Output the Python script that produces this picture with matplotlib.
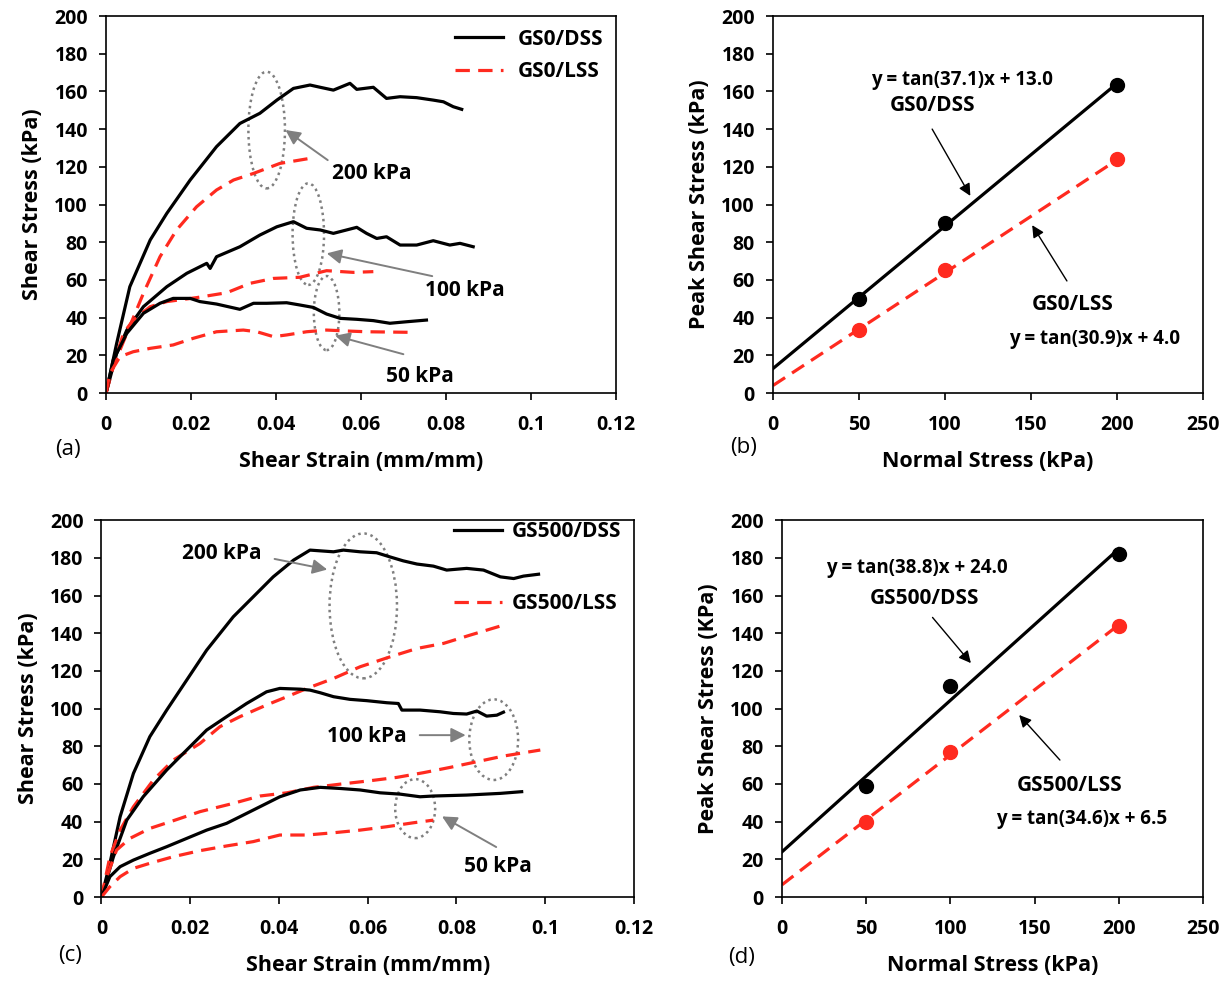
import matplotlib.pyplot as plt
from matplotlib.patches import Ellipse
import numpy as np

plt.rcParams['font.family'] = ['Open Sans', 'DejaVu Sans']
plt.rcParams['font.weight'] = 'bold'

# ---- panel (a): GS0 shear stress vs shear strain ----
a_dss200_x = [0, 0.0025, 0.0056, 0.0104, 0.0143, 0.0198, 0.026, 0.0315, 0.0362, 0.0402, 0.0441, 0.048,
              0.0504, 0.0535, 0.0574, 0.059, 0.0629, 0.066, 0.0692, 0.0731, 0.077, 0.0794, 0.0817, 0.0837]
a_dss200_y = [0, 26.3, 56.4, 81.2, 95.3, 113, 130.7, 143, 148.4, 155.4, 161.6, 163.4,
              162.2, 160.7, 164.3, 161.1, 162.2, 156.3, 157.2, 156.7, 155.4, 154.5, 151.9, 150.5]
a_lss200_x = [0, 0.0017, 0.0049, 0.0088, 0.0127, 0.0166, 0.0213, 0.026, 0.03, 0.0347, 0.0409, 0.048]
a_lss200_y = [0, 14, 31.7, 52.9, 72.3, 86.5, 98.8, 107.7, 113, 116.5, 121.8, 124.5]
a_dss100_x = [0, 0.0025, 0.0049, 0.0088, 0.0143, 0.019, 0.0237, 0.0245, 0.026, 0.0315, 0.0362, 0.0402, 0.0441,
              0.0472, 0.0504, 0.0535, 0.059, 0.0613, 0.0637, 0.066, 0.0692, 0.0731, 0.077, 0.0809, 0.0833, 0.0864]
a_dss100_y = [0, 21, 33.4, 45.8, 56.4, 63.5, 68.8, 66.1, 72.3, 77.6, 83.8, 88.2, 90.9,
              87.4, 86.5, 84.7, 87.9, 84.7, 82, 82.9, 78.5, 78.5, 80.8, 78.5, 79.4, 77.6]
a_lss100_x = [0, 0.0017, 0.0041, 0.0064, 0.0104, 0.0143, 0.0213, 0.0284, 0.0339, 0.0394, 0.0456, 0.0519, 0.0582, 0.0629]
a_lss100_y = [0, 14, 31.7, 38.7, 45.8, 48.5, 50.6, 53.2, 58.2, 60.8, 61.4, 64.9, 64, 64.4]
a_dss50_x = [0, 0.0017, 0.0049, 0.0088, 0.0127, 0.0158, 0.0198, 0.0221, 0.026, 0.0315, 0.0347, 0.0378, 0.0425,
             0.0456, 0.0488, 0.0519, 0.0551, 0.059, 0.0629, 0.0668, 0.0707, 0.0754]
a_dss50_y = [0, 17.5, 31.7, 42.3, 47.6, 50.2, 50.2, 48.5, 47.2, 44.4, 47.6, 47.6, 47.9,
             46.7, 45.4, 41.9, 39.6, 39.1, 38.4, 37, 37.8, 38.7]
a_lss50_x = [0, 0.0009, 0.0033, 0.0064, 0.0104, 0.0158, 0.0205, 0.026, 0.0323, 0.0355, 0.0394, 0.0425,
             0.0472, 0.0519, 0.0566, 0.0613, 0.0715]
a_lss50_y = [0, 10.4, 19.3, 21.9, 23.7, 25.5, 29, 32.5, 33.4, 32.5, 29.9, 30.8, 32.5, 33.4, 32.9, 32.5, 32.2]

# ---- panel (c): GS500 shear stress vs shear strain ----
c_dss200_x = [0, 0.0019, 0.0042, 0.0072, 0.0109, 0.0147, 0.0192, 0.0237, 0.0297, 0.0342, 0.0387, 0.0433, 0.047,
              0.0523, 0.0545, 0.0583, 0.062, 0.065, 0.068, 0.0711, 0.0748, 0.0778, 0.0823, 0.0861, 0.0899,
              0.0929, 0.0951, 0.0985]
c_dss200_y = [0, 17.9, 42.6, 65.6, 85.1, 99.2, 115.1, 131, 148.7, 159.3, 169.9, 178.8, 184.1,
              183.2, 184.1, 183.2, 182.7, 180.5, 178.4, 176.7, 175.6, 173.5, 174.4, 173.5, 169.9,
              169, 170.3, 171.3]
c_lss200_x = [0, 0.0019, 0.0042, 0.0072, 0.0117, 0.0162, 0.0222, 0.0267, 0.0312, 0.0372, 0.0418, 0.0463,
              0.0523, 0.0583, 0.0651, 0.0711, 0.0771, 0.0831, 0.0906]
c_lss200_y = [0, 21.4, 35.5, 47.9, 62.1, 72.7, 81.5, 90.4, 95.7, 101.9, 106.3, 110.7,
              116, 122.2, 127.5, 131.9, 134.6, 139, 144.3]
c_dss100_x = [0, 0.0027, 0.0057, 0.0094, 0.0147, 0.0192, 0.0237, 0.0282, 0.0327, 0.0372, 0.0402, 0.0448,
              0.047, 0.0493, 0.0523, 0.056, 0.0598, 0.0643, 0.0669, 0.0677, 0.0718, 0.0763, 0.0793, 0.0823,
              0.0846, 0.0868, 0.0891, 0.0906]
c_dss100_y = [0, 21.4, 40.8, 53.2, 67.4, 78, 88.6, 95.7, 102.7, 108.9, 110.7, 110.3,
              109.8, 108.4, 106.3, 104.9, 104.2, 103.1, 102.7, 99.2, 99.2, 98.3, 97.4, 97.1,
              98.7, 96, 96.5, 98.1]
c_lss100_x = [0, 0.0012, 0.0034, 0.0064, 0.0109, 0.0162, 0.0222, 0.0297, 0.0357, 0.0418, 0.0478, 0.0538,
              0.0605, 0.0666, 0.0726, 0.0786, 0.0846, 0.0906, 0.0989]
c_lss100_y = [0, 10.8, 24.9, 31.1, 36.4, 40.5, 45.3, 49.7, 53.6, 55.3, 58.2, 59.9,
              61.7, 63.5, 66, 68.8, 71.8, 74.8, 78]
c_dss50_x = [0, 0.0019, 0.0042, 0.0072, 0.0109, 0.0147, 0.0192, 0.0237, 0.0282, 0.0312, 0.0357, 0.0402,
             0.0448, 0.0493, 0.0538, 0.0583, 0.0628, 0.0673, 0.0718, 0.0748, 0.0823, 0.0899, 0.0947]
c_dss50_y = [0, 10.8, 16.1, 19.6, 23.2, 26.7, 31.1, 35.5, 39.1, 42.6, 47.9, 53.2,
             56.8, 58.2, 57.6, 56.8, 55.3, 54.6, 53.2, 53.6, 54.1, 55, 55.9]
c_lss50_x = [0, 0.0019, 0.0042, 0.0072, 0.0109, 0.0162, 0.0222, 0.0282, 0.0342, 0.0402, 0.0463, 0.0523,
             0.0583, 0.0643, 0.0703, 0.0748]
c_lss50_y = [0, 5.5, 10.8, 15.2, 17.9, 21.4, 24.6, 27.1, 29.4, 32.9, 32.9, 34.1, 35.5, 37.3, 39.4, 40.8]

# ---- panels (b), (d): peak shear stress vs normal stress ----
normal_stress = [50, 100, 200]
b_dss_peak = [50, 90, 163.5]
b_lss_peak = [33.5, 65, 124]
d_dss_peak = [59, 112, 182]
d_lss_peak = [40, 77, 144]
b_dss_fit = (37.1, 13.0)
b_lss_fit = (30.9, 4.0)
d_dss_fit = (38.8, 24.0)
d_lss_fit = (34.6, 6.5)

strain_ticks = [0, 0.02, 0.04, 0.06, 0.08, 0.1, 0.12]
strain_labels = ["0", "0.02", "0.04", "0.06", "0.08", "0.1", "0.12"]

RED = '#ff2a1f'
GRAY = '#7f7f7f'
LW = 2.3
DASH = (4.5, 2.6)
LBL = dict(fontsize=15.5, fontweight='bold')
ANN = dict(fontsize=15, fontweight='bold')

fig = plt.figure(figsize=(12.3, 9.84), dpi=100)
ax_a = fig.add_axes([0.0862, 0.6006, 0.4146, 0.3831])
ax_b = fig.add_axes([0.6285, 0.6006, 0.3496, 0.3831])
ax_c = fig.add_axes([0.0825, 0.0884, 0.4329, 0.3830])
ax_d = fig.add_axes([0.6358, 0.0884, 0.3423, 0.3830])


def style(ax):
    for s in ax.spines.values():
        s.set_linewidth(1.2)
    ax.tick_params(direction='out', length=5, width=1.2, labelsize=14)
    ax.tick_params(axis='x', pad=11)
    ax.tick_params(axis='y', pad=8)
    ax.set_ylim(0, 200)


def note(ax, txt, tail, head, ell):
    ax.add_patch(Ellipse(ell[0], ell[1], ell[2], fill=False, ec=GRAY, ls=(0, (1, 1.5)), lw=1.8))
    ax.annotate('', xy=head, xytext=tail,
                arrowprops=dict(arrowstyle='-|>', color=GRAY, lw=1.4, mutation_scale=22))
    ax.text(txt[0], txt[1], txt[2], ha='left', va='center', **ANN)


def strain_axis(ax):
    ax.set_xlim(0, 0.12)
    ax.set_xticks(strain_ticks)
    ax.set_xticklabels(strain_labels)
    ax.set_yticks(range(0, 201, 20))
    style(ax)
    ax.set_xlabel('Shear Strain (mm/mm)', labelpad=11, **LBL)
    ax.set_ylabel('Shear Stress (kPa)', labelpad=8, **LBL)


# (a)
ax = ax_a
ax.plot(a_dss200_x, a_dss200_y, color='black', lw=LW, label='GS0/DSS')
ax.plot(a_lss200_x, a_lss200_y, color=RED, lw=LW, dashes=DASH, label='GS0/LSS')
ax.plot(a_dss100_x, a_dss100_y, color='black', lw=LW)
ax.plot(a_lss100_x, a_lss100_y, color=RED, lw=LW, dashes=DASH)
ax.plot(a_dss50_x, a_dss50_y, color='black', lw=LW)
ax.plot(a_lss50_x, a_lss50_y, color=RED, lw=LW, dashes=DASH)
strain_axis(ax)
note(ax, (0.0531, 116.5, '200 kPa'), (0.0527, 122.7), (0.0417, 140.4), ((0.0378, 139.5), 0.0086, 61.9))
note(ax, (0.0751, 54.6, '100 kPa'), (0.0774, 61.7), (0.0513, 74.4), ((0.0476, 84.3), 0.0074, 53.9))
note(ax, (0.0659, 8.7, '50 kPa'), (0.0706, 20.2), (0.0533, 30.8), ((0.0519, 42.4), 0.006, 39.3))
ax.legend(loc='upper right', bbox_to_anchor=(1.0, 1.0), frameon=False, handlelength=2.3,
          handletextpad=0.7, labelspacing=0.55, borderaxespad=0.2, prop=dict(size=15, weight='bold'))

# (c)
ax = ax_c
ax.plot(c_dss200_x, c_dss200_y, color='black', lw=LW, label='GS500/DSS')
ax.plot(c_lss200_x, c_lss200_y, color=RED, lw=LW, dashes=DASH, label='GS500/LSS')
ax.plot(c_dss100_x, c_dss100_y, color='black', lw=LW)
ax.plot(c_lss100_x, c_lss100_y, color=RED, lw=LW, dashes=DASH)
ax.plot(c_dss50_x, c_dss50_y, color='black', lw=LW)
ax.plot(c_lss50_x, c_lss50_y, color=RED, lw=LW, dashes=DASH)
strain_axis(ax)
note(ax, (0.0181, 182.3, '200 kPa'), (0.0384, 179.7), (0.0515, 173.5), ((0.059, 154.5), 0.0152, 76.9))
note(ax, (0.0508, 85.4, '100 kPa'), (0.0711, 85.9), (0.0827, 85.9), ((0.0884, 83.5), 0.011, 42.8))
note(ax, (0.0816, 16.4, '50 kPa'), (0.0895, 25.8), (0.0762, 43.5), ((0.0707, 46.9), 0.009, 31.3))
ax.legend(loc='upper right', bbox_to_anchor=(1.0, 1.03), frameon=False, handlelength=2.3,
          handletextpad=0.5, labelspacing=2.45, borderaxespad=0.2, prop=dict(size=15, weight='bold'))


def peak_panel(ax, dss, lss, dss_fit, lss_fit, texts, arrows, ylabel):
    xs = np.array([0, 200])
    ax.plot(xs, np.tan(np.radians(dss_fit[0])) * xs + dss_fit[1], color='black', lw=LW)
    ax.plot(xs, np.tan(np.radians(lss_fit[0])) * xs + lss_fit[1], color=RED, lw=LW, dashes=DASH)
    ax.plot(normal_stress, dss, 'o', color='black', ms=10)
    ax.plot(normal_stress, lss, 'o', color=RED, ms=10)
    ax.set_xlim(0, 250)
    ax.set_xticks(range(0, 251, 50))
    ax.set_yticks(range(0, 201, 20))
    style(ax)
    for x, y, s, fs in texts:
        ax.text(x, y, s, ha='center', va='center', fontsize=fs, fontweight='bold')
    for tail, head in arrows:
        ax.annotate('', xy=head, xytext=tail,
                    arrowprops=dict(arrowstyle='-|>', color='black', lw=1.0, mutation_scale=18))
    ax.set_xlabel('Normal Stress (kPa)', labelpad=11, **LBL)
    ax.set_ylabel(ylabel, labelpad=8, **LBL)


peak_panel(ax_b, b_dss_peak, b_lss_peak, b_dss_fit, b_lss_fit,
           [(109.7, 166, 'y = tan(37.1)x + 13.0', 13.5), (92.8, 152.8, 'GS0/DSS', 15),
            (174, 47.2, 'GS0/LSS', 15), (186.8, 28.5, 'y = tan(30.9)x + 4.0', 13.5)],
           [((91.7, 141.3), (115.5, 103.3)), ((171.7, 58.2), (149.8, 90.3))],
           'Peak Shear Stress (kPa)')
peak_panel(ax_d, d_dss_peak, d_lss_peak, d_dss_fit, d_lss_fit,
           [(80, 174.8, 'y = tan(38.8)x + 24.0', 13.5), (84.3, 158.5, 'GS500/DSS', 15),
            (171, 59.2, 'GS500/LSS', 15), (178, 41.5, 'y = tan(34.6)x + 6.5', 13.5)],
           [((88.3, 149.5), (113.2, 123)), ((166.1, 71.6), (139.7, 97.7))],
           'Peak Shear Stress (KPa)')

for x, y, s in [(55, 450, '(a)'), (730, 447, '(b)'), (58, 955, '(c)'), (728, 957, '(d)')]:
    fig.text(x / 1230, 1 - y / 984, s, fontsize=16, fontweight='normal', va='center')

fig.savefig('out.png', dpi=100)
